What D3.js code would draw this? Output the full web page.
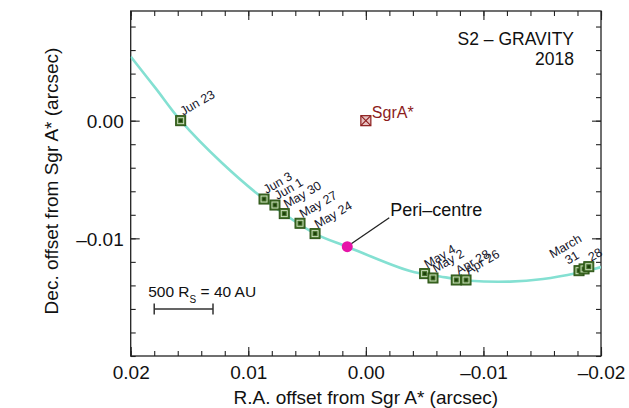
<!DOCTYPE html>
<html>
<head>
<meta charset="utf-8">
<script src="https://d3js.org/d3.v7.min.js"></script>
<style>
  body { margin: 0; background: #fff; }
  text { font-family: "Liberation Sans", Arial, Helvetica, sans-serif; }
</style>
</head>
<body>
<div id="chart"></div>
<script>
// S2 positions measured by GRAVITY in 2018 (arcsec offsets from Sgr A*)
const dates     = ["Jun 23", "Jun 3", "Jun 1", "May 30", "May 27", "May 24",
                   "May 4", "May 2", "Apr 28", "Apr 26", "31", "", "28"];
const raOffset  = [0.01575, 0.00866, 0.00773, 0.00694, 0.00560, 0.00432,
                   -0.00500, -0.00571, -0.00769, -0.00852, -0.01813, -0.01856, -0.01896];
const decOffset = [0.00000, -0.00666, -0.00717, -0.00790, -0.00872, -0.00960,
                   -0.01300, -0.01337, -0.01354, -0.01354, -0.01275, -0.01260, -0.01241];

// fitted orbit
const orbitRA  = [0.02000, 0.01787, 0.01575, 0.01223, 0.00866, 0.00432, 0.00158,
                  -0.00376, -0.00631, -0.00886, -0.01226, -0.01507, -0.01796, -0.02000];
const orbitDec = [0.00544, 0.00274, 0.00000, -0.00360, -0.00666, -0.00960, -0.01071,
                  -0.01278, -0.01324, -0.01360, -0.01368, -0.01346, -0.01295, -0.01244];

const periRA = 0.00158, periDec = -0.01071;
const sgrRA = 0.0, sgrDec = 0.0;
const scaleBarStart = 0.0180, scaleBarLength = 0.0050;

const xTickValues = [0.02, 0.01, 0.00, -0.01, -0.02];
const xTickLabels = ["0.02", "0.01", "0.00", "\u20130.01", "\u20130.02"];
const yTickValues = [0.00, -0.01];
const yTickLabels = ["0.00", "\u20130.01"];

const margin = {top: 11, right: 28, bottom: 52, left: 130.7};
const width = 629 - margin.left - margin.right;
const height = 408 - margin.top - margin.bottom;

const svg = d3.select("#chart").append("svg")
    .attr("width", 629)
    .attr("height", 408);

const g = svg.append("g")
    .attr("transform", `translate(${margin.left},${margin.top})`);

const x = d3.scaleLinear().domain([0.02, -0.02]).range([0, width]);
const y = d3.scaleLinear().domain([-0.02, 0.00932]).range([height, 0]);

// clip for the orbit
g.append("clipPath").attr("id", "plotClip")
    .append("rect").attr("width", width).attr("height", height);

// minor ticks on all four sides
const minorX = x.ticks(20), minorY = y.ticks(15);
g.append("g").attr("class", "axis")
    .attr("transform", `translate(0,${height})`)
    .call(d3.axisBottom(x).tickValues(minorX).tickSize(-5).tickSizeOuter(0).tickFormat(""));
g.append("g").attr("class", "axis")
    .call(d3.axisTop(x).tickValues(minorX).tickSize(-5).tickSizeOuter(0).tickFormat(""));
g.append("g").attr("class", "axis")
    .call(d3.axisLeft(y).tickValues(minorY).tickSize(-5).tickSizeOuter(0).tickFormat(""));
g.append("g").attr("class", "axis")
    .attr("transform", `translate(${width},0)`)
    .call(d3.axisRight(y).tickValues(minorY).tickSize(-5).tickSizeOuter(0).tickFormat(""));

// major ticks + labels
g.append("g").attr("class", "axis")
    .attr("transform", `translate(0,${height})`)
    .call(d3.axisBottom(x).tickValues(xTickValues).tickSize(-9).tickSizeOuter(0)
        .tickPadding(10).tickFormat((d, i) => xTickLabels[i]));
g.append("g").attr("class", "axis")
    .call(d3.axisTop(x).tickValues(xTickValues).tickSize(-9).tickSizeOuter(0).tickFormat(""));
const yAxis = g.append("g").attr("class", "axis")
    .call(d3.axisLeft(y).tickValues(yTickValues).tickSize(-9).tickSizeOuter(0)
        .tickPadding(7).tickFormat((d, i) => yTickLabels[i]));
g.append("g").attr("class", "axis")
    .attr("transform", `translate(${width},0)`)
    .call(d3.axisRight(y).tickValues(yTickValues).tickSize(-9).tickSizeOuter(0).tickFormat(""));

g.selectAll(".axis .domain").remove();
g.selectAll(".axis line").attr("stroke", "#222").attr("stroke-width", 1.1);
g.selectAll(".axis text")
    .attr("font-size", 19)
    .attr("fill", "#111")
    .style("font-family", "'Liberation Sans', Arial, sans-serif");
yAxis.selectAll("text").attr("dy", "0.36em");

// frame
g.append("rect")
    .attr("width", width).attr("height", height)
    .attr("fill", "none").attr("stroke", "#222").attr("stroke-width", 1.3);

// axis titles
svg.append("text")
    .attr("x", margin.left + width / 2).attr("y", 404)
    .attr("text-anchor", "middle").attr("font-size", 19).attr("fill", "#111")
    .text("R.A. offset from Sgr A* (arcsec)");
svg.append("text")
    .attr("transform", `translate(58,${margin.top + 170}) rotate(-90)`)
    .attr("text-anchor", "middle").attr("font-size", 19).attr("fill", "#111")
    .text("Dec. offset from Sgr A* (arcsec)");

// title
g.append("text")
    .attr("x", width - 27).attr("y", 33.5)
    .attr("text-anchor", "end").attr("font-size", 17.5).attr("fill", "#111")
    .text("S2 \u2013 GRAVITY");
g.append("text")
    .attr("x", width - 27).attr("y", 53.5)
    .attr("text-anchor", "end").attr("font-size", 17.5).attr("fill", "#111")
    .text("2018");

// orbit
const orbit = orbitRA.map((d, i) => [d, orbitDec[i]]);
g.append("path")
    .datum(orbit)
    .attr("clip-path", "url(#plotClip)")
    .attr("fill", "none")
    .attr("stroke", "#84e0d2")
    .attr("stroke-width", 2.6)
    .attr("d", d3.line().x(d => x(d[0])).y(d => y(d[1])).curve(d3.curveCatmullRom));

// Sgr A*
const sx = x(sgrRA), sy = y(sgrDec);
const sgr = g.append("g").attr("transform", `translate(${sx},${sy})`);
sgr.append("rect").attr("x", -5).attr("y", -5).attr("width", 10).attr("height", 10)
    .attr("fill", "#e7c1c1").attr("stroke", "#8c1c1c").attr("stroke-width", 1.2);
sgr.append("path").attr("d", "M-5,-5L5,5M-5,5L5,-5")
    .attr("stroke", "#8c1c1c").attr("stroke-width", 1.1);
g.append("text")
    .attr("x", sx + 6).attr("y", sy - 2.4)
    .attr("font-size", 16).attr("fill", "#8c1c1c")
    .text("SgrA*");

// peri-centre
const px = x(periRA), py = y(periDec);
g.append("line")
    .attr("x1", px + 4).attr("y1", py - 3)
    .attr("x2", px + 42).attr("y2", py - 29)
    .attr("stroke", "#222").attr("stroke-width", 1.3);
g.append("circle")
    .attr("cx", px).attr("cy", py).attr("r", 5.5)
    .attr("fill", "#e614a8");
g.append("text")
    .attr("x", px + 43).attr("y", py - 31)
    .attr("font-size", 18).attr("fill", "#111")
    .text("Peri\u2013centre");

// data points
const pts = g.selectAll(".pt")
    .data(dates.map((d, i) => ({label: d, ra: raOffset[i], dec: decOffset[i]})))
    .enter().append("g")
    .attr("class", "pt")
    .attr("transform", d => `translate(${x(d.ra)},${y(d.dec)})`);
pts.append("rect").attr("x", -5).attr("y", -5).attr("width", 10).attr("height", 10)
    .attr("fill", "#44722a").attr("stroke", "#2a5214").attr("stroke-width", 1);
pts.append("rect").attr("x", -3).attr("y", -3).attr("width", 6).attr("height", 6)
    .attr("fill", "none").attr("stroke", "#d6e6c8").attr("stroke-width", 0.9);
pts.append("rect").attr("x", -1.4).attr("y", -1.4).attr("width", 2.8).attr("height", 2.8)
    .attr("fill", "#1d3f0b");

// date labels
const labelFont = 12.5;
pts.filter(d => d.label !== "" && d.label !== "31")
    .append("text")
    .attr("transform", "translate(2.5,-5) rotate(-30)")
    .attr("font-size", labelFont).attr("fill", "#15152a")
    .text(d => d.label);

// "March 31" is a two-line label
const mar = pts.filter(d => d.label === "31")
    .append("text")
    .attr("transform", "translate(-5,-9.5) rotate(-30)")
    .attr("text-anchor", "middle")
    .attr("font-size", labelFont).attr("fill", "#15152a");
mar.append("tspan").attr("x", 0).attr("dy", "-1.05em").text("March");
mar.append("tspan").attr("x", 0).attr("dy", "1.05em").text(d => d.label);

// scale bar: 500 Rs = 40 AU
const b0 = x(scaleBarStart), b1 = x(scaleBarStart - scaleBarLength), by = 298;
g.append("path")
    .attr("d", `M${b0},${by - 5.5}V${by + 5.5}M${b0},${by}H${b1}M${b1},${by - 5.5}V${by + 5.5}`)
    .attr("fill", "none").attr("stroke", "#333").attr("stroke-width", 1.5);
const sb = g.append("text")
    .attr("x", b0 - 6).attr("y", by - 12)
    .attr("font-size", 15.5).attr("fill", "#111");
sb.append("tspan").text("500 R");
sb.append("tspan").attr("font-size", 10).attr("dy", 6).text("S");
sb.append("tspan").attr("dy", -6).text(" = 40 AU");
</script>
</body>
</html>
